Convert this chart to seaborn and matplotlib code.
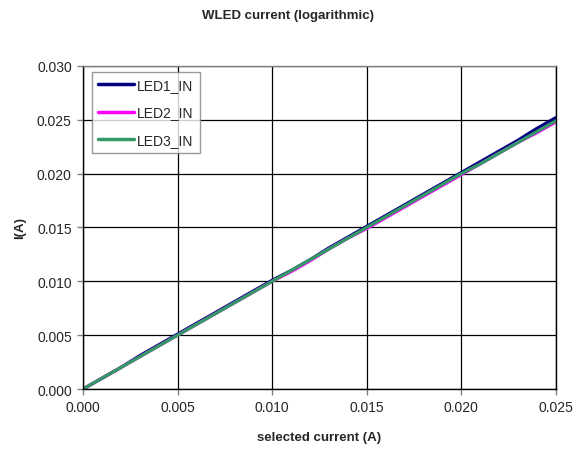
import matplotlib
matplotlib.use("Agg")
import matplotlib.pyplot as plt
import seaborn as sns
import pandas as pd

sel_current = [0.000, 0.001, 0.002, 0.003, 0.004, 0.005, 0.006, 0.007, 0.008, 0.009,
               0.010, 0.011, 0.012, 0.013, 0.014, 0.015, 0.016, 0.017, 0.018, 0.019,
               0.020, 0.021, 0.022, 0.023, 0.024, 0.025]
led1 = [0.0000, 0.0010, 0.0020, 0.0031, 0.0041, 0.0051, 0.0061, 0.0071, 0.0081, 0.0091,
        0.0101, 0.0110, 0.0120, 0.0131, 0.0141, 0.0151, 0.0161, 0.0171, 0.0181, 0.0191,
        0.0201, 0.0211, 0.0221, 0.0231, 0.0242, 0.0252]
led2 = [0.0000, 0.0010, 0.0020, 0.0030, 0.0040, 0.0050, 0.0060, 0.0070, 0.0080, 0.0090,
        0.0100, 0.0109, 0.0119, 0.0130, 0.0140, 0.0149, 0.0159, 0.0169, 0.0179, 0.0189,
        0.0199, 0.0209, 0.0219, 0.0229, 0.0238, 0.0248]
led3 = [0.0000, 0.0010, 0.0020, 0.0030, 0.0040, 0.0050, 0.0060, 0.0070, 0.0080, 0.0090,
        0.0100, 0.0110, 0.0120, 0.0130, 0.0140, 0.0150, 0.0160, 0.0170, 0.0180, 0.0190,
        0.0200, 0.0209, 0.0219, 0.0229, 0.0239, 0.0249]
series_names = ["LED1_IN", "LED2_IN", "LED3_IN"]
x_ticks = [0.000, 0.005, 0.010, 0.015, 0.020, 0.025]
y_ticks = [0.000, 0.005, 0.010, 0.015, 0.020, 0.025, 0.030]

sns.set_style("white")
plt.rcParams["font.family"] = ["Liberation Sans", "DejaVu Sans"]

df = pd.DataFrame({"x": sel_current * 3,
                   "y": led1 + led2 + led3,
                   "series": [series_names[0]] * len(led1) + [series_names[1]] * len(led2) + [series_names[2]] * len(led3)})

fig = plt.figure(figsize=(5.76, 4.52), dpi=100)
ax = fig.add_axes([0.144, 0.137, 0.821, 0.715])
palette = {"LED1_IN": "#000080", "LED2_IN": "#ff00ff", "LED3_IN": "#339966"}
sns.lineplot(data=df, x="x", y="y", hue="series", palette=palette, linewidth=2.3, ax=ax, legend=True)

ax.set_xlim(0, 0.025)
ax.set_ylim(0, 0.030)
ax.set_xticks(x_ticks)
ax.set_yticks(y_ticks)
ax.set_xticklabels([f"{v:.3f}" for v in x_ticks], fontsize=10)
ax.set_yticklabels([f"{v:.3f}" for v in y_ticks], fontsize=10)
ax.grid(True, color="#000000", linewidth=0.9)
ax.set_axisbelow(True)
ax.tick_params(axis="both", direction="out", length=4, color="#808080", width=1, pad=4,
               bottom=True, left=True)
for s in ax.spines.values():
    s.set_color("#000000")
    s.set_linewidth(1.0)
ax.spines["top"].set_color("#808080")

ax.set_xlabel("selected current (A)", fontsize=9.5, fontweight="bold", labelpad=12)
ax.set_ylabel("I(A)", fontsize=9.5, fontweight="bold", labelpad=8)
fig.text(0.5, 0.965, "WLED current (logarithmic)", ha="center", va="center", fontsize=9.5, fontweight="bold")

leg = ax.legend(loc="upper left", bbox_to_anchor=(0.019, 0.981), borderaxespad=0, fontsize=10,
                frameon=True, fancybox=False, edgecolor="#808080", handlelength=2.6, borderpad=0.45,
                labelspacing=0.95, handletextpad=0.2)
leg.get_frame().set_linewidth(1.0)
for h in leg.get_lines():
    h.set_linewidth(2.5)

fig.savefig("out.png", dpi=100)
